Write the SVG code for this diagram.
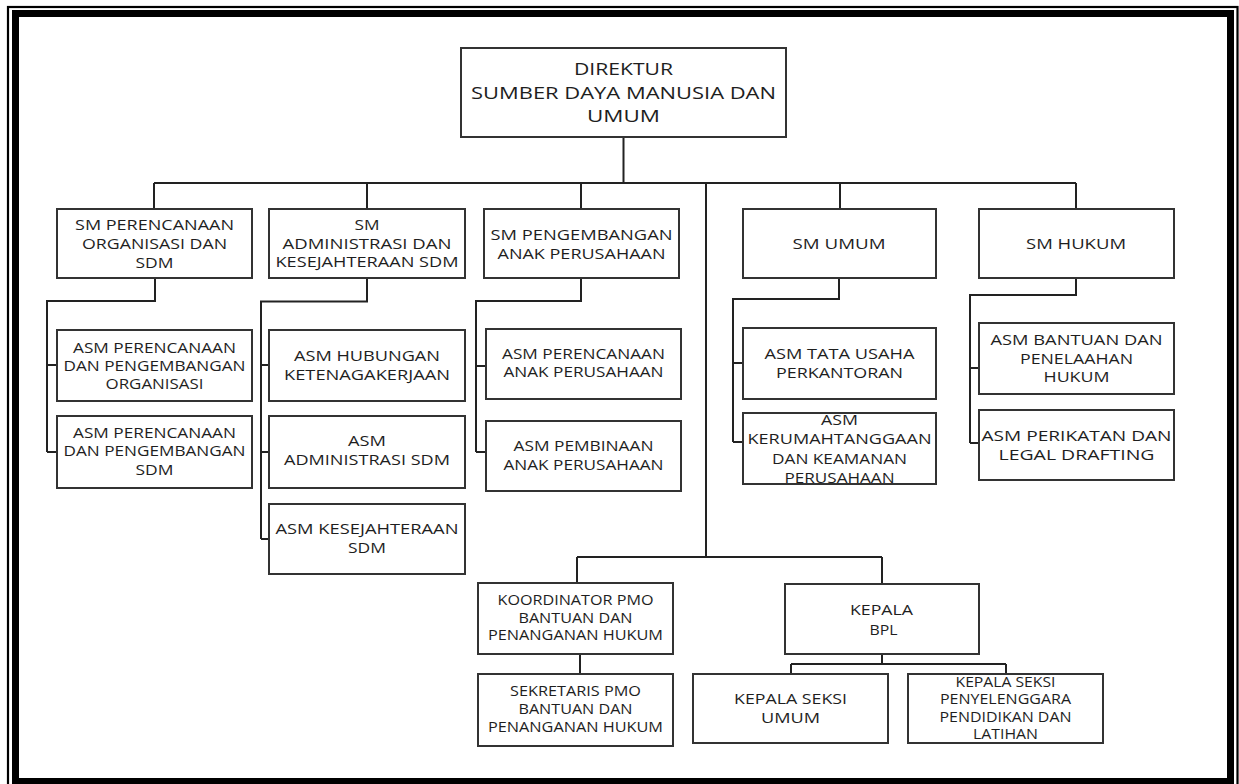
<svg xmlns="http://www.w3.org/2000/svg" width="1239" height="784" viewBox="0 0 1239 784">
<style>
.bx{fill:#fff;stroke:#333;stroke-width:2}
.ln{fill:none;stroke:#222;stroke-width:2}
.t{font-family:"Open Sans","DejaVu Sans",sans-serif;font-size:15px;fill:#1e1e1e;text-anchor:middle}
.tb{font-size:16.5px}
.ts{font-size:14px}
</style>
<rect x="0" y="0" width="1239" height="784" fill="#fff"/>
<rect x="8" y="7" width="1229.5" height="782" fill="none" stroke="#000" stroke-width="2.2"/>
<rect x="15.5" y="13.5" width="1215" height="768" fill="none" stroke="#000" stroke-width="7"/>

<g id="connectors" class="ln">
<path d="M623.5,137V183M154,183H1076M154,183V209M367,183V209M581,183V209M840,183V209M1076,183V209"/>
<path d="M706,183V557M577,557H882M577,557V583M882,557V584"/>
<path d="M155,278V301H47V452M47,365H57M47,452H57"/>
<path d="M367,278V301.5H261V539M261,365H269M261,452H269M261,539H269"/>
<path d="M581,278V301H476V452M476,366H486M476,452H486"/>
<path d="M839,278V299H733V442M733,363H743M733,442H743"/>
<path d="M1076,278V295H970V443M970,368H979M970,443H979"/>
<path d="M580,654V674"/>
<path d="M882,654V664M791,664H1006M791,664V674M1006,664V674"/>
</g>

<g id="direktur"><rect class="bx" x="461" y="48" width="325" height="89"/>
<text class="t tb" x="623.5" y="75.3" textLength="99" lengthAdjust="spacingAndGlyphs">DIREKTUR</text>
<text class="t tb" x="623.5" y="99.3" textLength="305" lengthAdjust="spacingAndGlyphs">SUMBER DAYA MANUSIA DAN</text>
<text class="t tb" x="623.5" y="122.3" textLength="73" lengthAdjust="spacingAndGlyphs">UMUM</text></g>

<g id="sm-perencanaan"><rect class="bx" x="57" y="209" width="195" height="69"/>
<text class="t" x="154.5" y="230.3" textLength="159" lengthAdjust="spacingAndGlyphs">SM PERENCANAAN</text>
<text class="t" x="154.5" y="248.8" textLength="145" lengthAdjust="spacingAndGlyphs">ORGANISASI DAN</text>
<text class="t" x="154.5" y="267.8" textLength="38" lengthAdjust="spacingAndGlyphs">SDM</text></g>

<g id="sm-administrasi"><rect class="bx" x="269" y="209" width="196" height="69"/>
<text class="t" x="367" y="230.3" textLength="25" lengthAdjust="spacingAndGlyphs">SM</text>
<text class="t" x="367" y="248.8" textLength="169" lengthAdjust="spacingAndGlyphs">ADMINISTRASI DAN</text>
<text class="t" x="367" y="267.3" textLength="183" lengthAdjust="spacingAndGlyphs">KESEJAHTERAAN SDM</text></g>

<g id="sm-pengembangan"><rect class="bx" x="484" y="209" width="195" height="69"/>
<text class="t" x="581.5" y="239.8" textLength="182" lengthAdjust="spacingAndGlyphs">SM PENGEMBANGAN</text>
<text class="t" x="581.5" y="259.3" textLength="168" lengthAdjust="spacingAndGlyphs">ANAK PERUSAHAAN</text></g>

<g id="sm-umum"><rect class="bx" x="743" y="209" width="193" height="69"/>
<text class="t" x="839" y="248.8" textLength="93" lengthAdjust="spacingAndGlyphs">SM UMUM</text></g>

<g id="sm-hukum"><rect class="bx" x="979" y="209" width="195" height="69"/>
<text class="t" x="1076" y="248.8" textLength="100" lengthAdjust="spacingAndGlyphs">SM HUKUM</text></g>

<g id="asm-org"><rect class="bx" x="57" y="330" width="195" height="71"/>
<text class="t" x="154.5" y="352.5" textLength="163" lengthAdjust="spacingAndGlyphs">ASM PERENCANAAN</text>
<text class="t" x="154.5" y="370.8" textLength="182" lengthAdjust="spacingAndGlyphs">DAN PENGEMBANGAN</text>
<text class="t" x="154.5" y="389.1" textLength="98" lengthAdjust="spacingAndGlyphs">ORGANISASI</text></g>

<g id="asm-sdm"><rect class="bx" x="57" y="416" width="195" height="72"/>
<text class="t" x="154.5" y="437.8" textLength="163" lengthAdjust="spacingAndGlyphs">ASM PERENCANAAN</text>
<text class="t" x="154.5" y="456.3" textLength="182" lengthAdjust="spacingAndGlyphs">DAN PENGEMBANGAN</text>
<text class="t" x="154.5" y="474.8" textLength="38" lengthAdjust="spacingAndGlyphs">SDM</text></g>

<g id="asm-hubungan"><rect class="bx" x="269" y="330" width="196" height="71"/>
<text class="t" x="367" y="360.8" textLength="146" lengthAdjust="spacingAndGlyphs">ASM HUBUNGAN</text>
<text class="t" x="367" y="379.8" textLength="166" lengthAdjust="spacingAndGlyphs">KETENAGAKERJAAN</text></g>

<g id="asm-administrasi"><rect class="bx" x="269" y="416" width="196" height="72"/>
<text class="t" x="367" y="446.3" textLength="38" lengthAdjust="spacingAndGlyphs">ASM</text>
<text class="t" x="367" y="465.3" textLength="166" lengthAdjust="spacingAndGlyphs">ADMINISTRASI SDM</text></g>

<g id="asm-kesejahteraan"><rect class="bx" x="269" y="504" width="196" height="70"/>
<text class="t" x="367" y="533.8" textLength="183" lengthAdjust="spacingAndGlyphs">ASM KESEJAHTERAAN</text>
<text class="t" x="367" y="553" textLength="38" lengthAdjust="spacingAndGlyphs">SDM</text></g>

<g id="asm-perencanaan-anak"><rect class="bx" x="486" y="329" width="195" height="70"/>
<text class="t" x="583.5" y="358.8" textLength="163" lengthAdjust="spacingAndGlyphs">ASM PERENCANAAN</text>
<text class="t" x="583.5" y="377.3" textLength="160" lengthAdjust="spacingAndGlyphs">ANAK PERUSAHAAN</text></g>

<g id="asm-pembinaan-anak"><rect class="bx" x="486" y="421" width="195" height="70"/>
<text class="t" x="583.5" y="451.3" textLength="140" lengthAdjust="spacingAndGlyphs">ASM PEMBINAAN</text>
<text class="t" x="583.5" y="469.8" textLength="160" lengthAdjust="spacingAndGlyphs">ANAK PERUSAHAAN</text></g>

<g id="asm-tata-usaha"><rect class="bx" x="743" y="328" width="193" height="71"/>
<text class="t" x="839.5" y="359.3" textLength="150" lengthAdjust="spacingAndGlyphs">ASM TATA USAHA</text>
<text class="t" x="839.5" y="378.3" textLength="127" lengthAdjust="spacingAndGlyphs">PERKANTORAN</text></g>

<g id="asm-kerumahtanggaan"><rect class="bx" x="743" y="413" width="193" height="71"/>
<text class="t" x="839.5" y="424.8" textLength="37" lengthAdjust="spacingAndGlyphs">ASM</text>
<text class="t" x="839.5" y="444.3" textLength="184" lengthAdjust="spacingAndGlyphs">KERUMAHTANGGAAN</text>
<text class="t" x="839.5" y="463.6" textLength="135" lengthAdjust="spacingAndGlyphs">DAN KEAMANAN</text>
<text class="t" x="839.5" y="482.8" textLength="110" lengthAdjust="spacingAndGlyphs">PERUSAHAAN</text></g>

<g id="asm-bantuan"><rect class="bx" x="979" y="323" width="195" height="71"/>
<text class="t" x="1076.5" y="344.8" textLength="172" lengthAdjust="spacingAndGlyphs">ASM BANTUAN DAN</text>
<text class="t" x="1076.5" y="363.8" textLength="113" lengthAdjust="spacingAndGlyphs">PENELAAHAN</text>
<text class="t" x="1076.5" y="382.3" textLength="66" lengthAdjust="spacingAndGlyphs">HUKUM</text></g>

<g id="asm-perikatan"><rect class="bx" x="979" y="410" width="195" height="70"/>
<text class="t" x="1076.5" y="441.3" textLength="190" lengthAdjust="spacingAndGlyphs">ASM PERIKATAN DAN</text>
<text class="t" x="1076.5" y="459.8" textLength="156" lengthAdjust="spacingAndGlyphs">LEGAL DRAFTING</text></g>

<g id="koordinator-pmo"><rect class="bx" x="478" y="583" width="195" height="71"/>
<text class="t ts" x="575.5" y="605" textLength="156" lengthAdjust="spacingAndGlyphs">KOORDINATOR PMO</text>
<text class="t ts" x="575.5" y="622.7" textLength="114" lengthAdjust="spacingAndGlyphs">BANTUAN DAN</text>
<text class="t ts" x="575.5" y="640.2" textLength="175" lengthAdjust="spacingAndGlyphs">PENANGANAN HUKUM</text></g>

<g id="sekretaris-pmo"><rect class="bx" x="478" y="674" width="195" height="72"/>
<text class="t ts" x="575.5" y="696" textLength="131" lengthAdjust="spacingAndGlyphs">SEKRETARIS PMO</text>
<text class="t ts" x="575.5" y="713.8" textLength="114" lengthAdjust="spacingAndGlyphs">BANTUAN DAN</text>
<text class="t ts" x="575.5" y="731.8" textLength="175" lengthAdjust="spacingAndGlyphs">PENANGANAN HUKUM</text></g>

<g id="kepala-bpl"><rect class="bx" x="785" y="584" width="194" height="70"/>
<text class="t" x="881.5" y="614.6" textLength="63" lengthAdjust="spacingAndGlyphs">KEPALA</text>
<text class="t" x="883.5" y="634.6" textLength="28" lengthAdjust="spacingAndGlyphs">BPL</text></g>

<g id="kepala-seksi-umum"><rect class="bx" x="693" y="674" width="195" height="69"/>
<text class="t" x="790.5" y="704.3" textLength="113" lengthAdjust="spacingAndGlyphs">KEPALA SEKSI</text>
<text class="t" x="790.5" y="723" textLength="59" lengthAdjust="spacingAndGlyphs">UMUM</text></g>

<g id="kepala-seksi-diklat"><rect class="bx" x="908" y="674" width="195" height="69"/>
<text class="t ts" x="1005.5" y="686.5" textLength="100" lengthAdjust="spacingAndGlyphs">KEPALA SEKSI</text>
<text class="t ts" x="1005.5" y="703.8" textLength="131" lengthAdjust="spacingAndGlyphs">PENYELENGGARA</text>
<text class="t ts" x="1005.5" y="721.6" textLength="132" lengthAdjust="spacingAndGlyphs">PENDIDIKAN DAN</text>
<text class="t ts" x="1005.5" y="739.2" textLength="65" lengthAdjust="spacingAndGlyphs">LATIHAN</text></g>
</svg>
